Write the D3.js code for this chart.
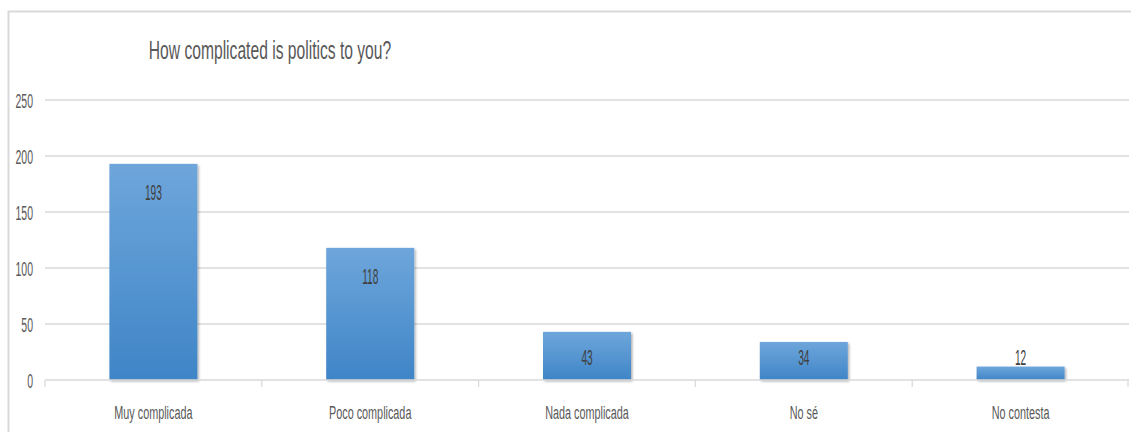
<!DOCTYPE html>
<html>
<head>
<meta charset="utf-8">
<script src="https://cdn.jsdelivr.net/npm/d3@7"></script>
<style>
  html, body { margin: 0; padding: 0; background: #fff; }
  svg { display: block; font-family: "Liberation Sans", Arial, sans-serif; }
</style>
</head>
<body>
<svg id="chart" width="1131" height="432"></svg>
<script>
const title = "How complicated is politics to you?";
const categories = ["Muy complicada", "Poco complicada", "Nada complicada", "No sé", "No contesta"];
const values = [193, 118, 43, 34, 12];
const yTicks = [0, 50, 100, 150, 200, 250];

const svg = d3.select("#chart");
const W = 1131, H = 432;
const m = { left: 45, right: 2, top: 100, bottom: 52 };
const x0 = m.left, x1 = W - m.right, yBase = H - m.bottom;

const x = d3.scaleBand().domain(categories).range([x0, x1]).paddingInner(0).paddingOuter(0);
const y = d3.scaleLinear().domain([0, 250]).range([yBase, m.top]);
const barW = 88;

// defs
const defs = svg.append("defs");
const grad = defs.append("linearGradient").attr("id", "barGrad")
  .attr("x1", 0).attr("y1", 0).attr("x2", 0).attr("y2", 1);
grad.append("stop").attr("offset", "0%").attr("stop-color", "#6ea6db");
grad.append("stop").attr("offset", "100%").attr("stop-color", "#3f85c7");
const f = defs.append("filter").attr("id", "shadow")
  .attr("x", "-10%").attr("y", "-10%").attr("width", "130%").attr("height", "130%");
f.append("feDropShadow").attr("dx", 1.5).attr("dy", 1.5).attr("stdDeviation", 1.2)
  .attr("flood-color", "#000").attr("flood-opacity", 0.3);

// frame
svg.append("path")
  .attr("d", `M8.5,${H} L8.5,11.5 L${W},11.5`)
  .attr("fill", "none").attr("stroke", "#d9d9d9").attr("stroke-width", 2);

// gridlines
svg.append("g").selectAll("line").data(yTicks.filter(d => d > 0)).join("line")
  .attr("x1", x0).attr("x2", x1)
  .attr("y1", d => y(d)).attr("y2", d => y(d))
  .attr("stroke", "#d9d9d9").attr("stroke-width", 1.5);

// helper for horizontally condensed text
function squish(sel, sx) {
  sel.each(function () {
    const t = d3.select(this);
    const px = +t.attr("data-x"), py = +t.attr("data-y");
    t.attr("transform", `translate(${px},${py}) scale(${sx},1)`);
  });
}

// y tick labels
svg.append("g").selectAll("text").data(yTicks).join("text")
  .attr("data-x", 33).attr("data-y", d => y(d) + 7.5)
  .attr("text-anchor", "end")
  .attr("font-size", 21).attr("fill", "#595959")
  .text(d => d)
  .call(squish, 0.5);

// bars
svg.append("g").selectAll("rect").data(values).join("rect")
  .attr("x", (d, i) => x(categories[i]) + (x.bandwidth() - barW) / 2)
  .attr("width", barW)
  .attr("y", d => y(d))
  .attr("height", d => yBase - y(d))
  .attr("fill", "url(#barGrad)")
  .attr("filter", "url(#shadow)");

// x axis line + ticks
svg.append("line").attr("x1", x0).attr("x2", x1).attr("y1", yBase).attr("y2", yBase)
  .attr("stroke", "#d9d9d9").attr("stroke-width", 1.5);
const bounds = categories.map(c => x(c)).concat([x1 - 1]);
svg.append("g").selectAll("line").data(bounds).join("line")
  .attr("x1", d => d).attr("x2", d => d).attr("y1", yBase).attr("y2", yBase + 7)
  .attr("stroke", "#d9d9d9").attr("stroke-width", 1.2);

// category labels
svg.append("g").selectAll("text").data(categories).join("text")
  .attr("data-x", d => x(d) + x.bandwidth() / 2).attr("data-y", 419)
  .attr("text-anchor", "middle")
  .attr("font-size", 19).attr("fill", "#595959")
  .text(d => d)
  .call(squish, 0.57);

// data labels
svg.append("g").selectAll("text").data(values).join("text")
  .attr("data-x", (d, i) => x(categories[i]) + x.bandwidth() / 2)
  .attr("data-y", d => Math.min(y(d) + 28, 357) + 8)
  .attr("text-anchor", "middle")
  .attr("font-size", 22).attr("fill", "#404040")
  .text(d => d)
  .call(squish, 0.46);

// title
svg.append("text")
  .attr("data-x", 270).attr("data-y", 58.5)
  .attr("text-anchor", "middle")
  .attr("font-size", 26.5).attr("fill", "#595959")
  .text(title)
  .call(squish, 0.59);
</script>
</body>
</html>
